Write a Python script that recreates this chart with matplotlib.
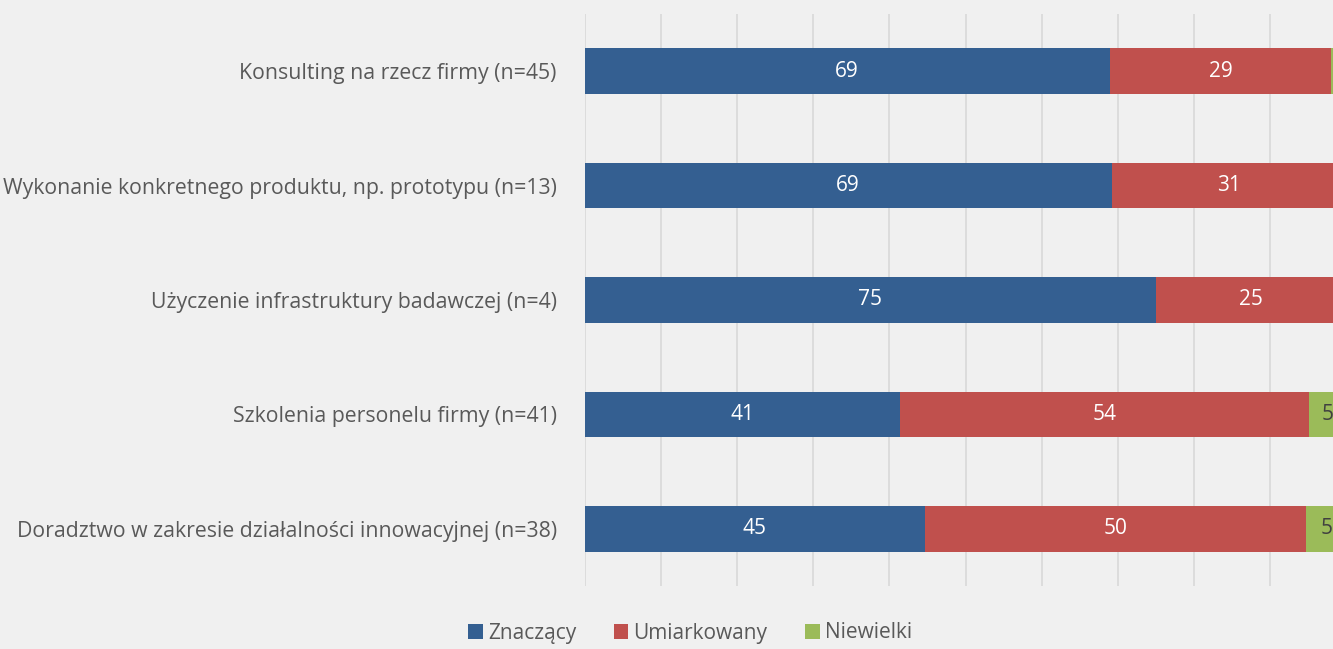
import numpy as np
import matplotlib.pyplot as plt

# Dane (odsetki odpowiedzi)
kategorie = [
    'Konsulting na rzecz firmy (n=45)',
    'Wykonanie konkretnego produktu, np. prototypu (n=13)',
    'Użyczenie infrastruktury badawczej (n=4)',
    'Szkolenia personelu firmy (n=41)',
    'Doradztwo w zakresie działalności innowacyjnej (n=38)',
]
znaczacy = [68.9, 69.2, 75.0, 41.4, 44.7]
umiarkowany = [29.1, 30.8, 25.0, 53.7, 50.0]
niewielki = [2.0, 0.0, 0.0, 4.9, 5.3]

serie = ['Znaczący', 'Umiarkowany', 'Niewielki']
kolory = ['#345f91', '#c0504d', '#9bbb59']
kolory_etykiet = ['white', 'white', '#404040']

plt.rcParams['font.family'] = ['Open Sans', 'DejaVu Sans']
tlo = '#f0f0f0'

fig = plt.figure(figsize=(13.33, 6.49), dpi=100, facecolor=tlo)
ax = fig.add_axes([584.5 / 1333, 1 - 586 / 649, 762 / 1333, 572 / 649])
ax.set_facecolor(tlo)

y = np.arange(len(kategorie))
lewo = np.zeros(len(kategorie))
for wartosci, nazwa, kolor, kol_et in zip([znaczacy, umiarkowany, niewielki], serie, kolory, kolory_etykiet):
    wartosci = np.array(wartosci)
    bary = ax.barh(y, wartosci, left=lewo, height=0.4, color=kolor, label=nazwa, zorder=3)
    for b, v in zip(bary, wartosci):
        if v > 0:
            ax.text(b.get_x() + b.get_width() / 2, b.get_y() + b.get_height() / 2,
                    f'{v:.0f}', ha='center', va='center', color=kol_et, fontsize=15,
                    zorder=4, clip_on=True)
    lewo += wartosci

ax.set_xlim(0, 100)
ax.set_ylim(len(kategorie) - 0.5, -0.5)
ax.set_xticks(np.arange(0, 101, 10))
ax.set_xticklabels([])
ax.grid(axis='x', color='#d9d9d9', linewidth=1.2, zorder=0)
ax.tick_params(axis='x', length=0)
ax.tick_params(axis='y', length=0, pad=20, labelsize=15.3, labelcolor='#595959')
ax.set_yticks(y)
ax.set_yticklabels(kategorie)
for s in ax.spines.values():
    s.set_visible(False)

fig.legend(loc='center', bbox_to_anchor=(690 / 1333, 1 - 633 / 649), ncol=3, frameon=False,
           fontsize=15, labelcolor='#595959', handlelength=0.7, handleheight=0.7,
           handletextpad=0.25, columnspacing=1.8)

fig.savefig('out.png', dpi=100, facecolor=tlo)
